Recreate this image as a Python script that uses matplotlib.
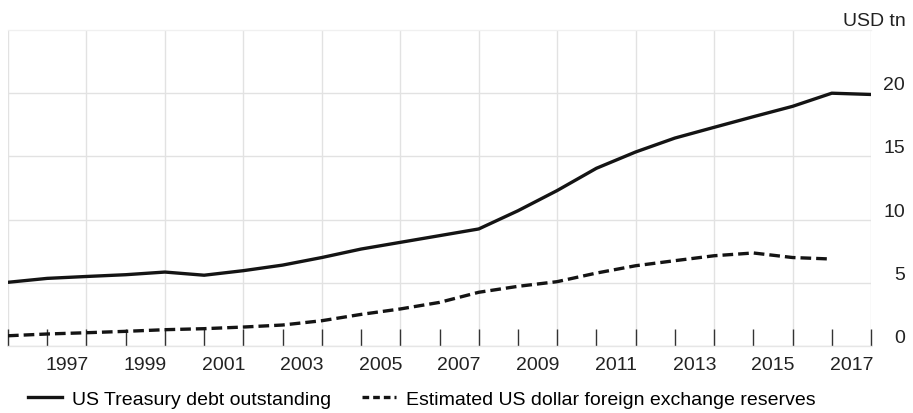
import numpy as np
import matplotlib
matplotlib.use("Agg")
from matplotlib import pyplot as plt
from matplotlib.lines import Line2D

plt.rcParams['font.family'] = ['Liberation Sans', 'DejaVu Sans']

# year-end observations (plotted at the boundary after each year)
years = [1995, 1996, 1997, 1998, 1999, 2000, 2001, 2002, 2003, 2004, 2005, 2006,
         2007, 2008, 2009, 2010, 2011, 2012, 2013, 2014, 2015, 2016, 2017]
treasury_debt = [5.04, 5.35, 5.5, 5.64, 5.85, 5.6, 5.96, 6.4, 7.0, 7.67, 8.2, 8.73,
                 9.26, 10.7, 12.3, 14.06, 15.35, 16.45, 17.3, 18.14, 18.96, 20.0, 19.9]
fx_years = years[:-1]
fx_reserves = [0.81, 0.95, 1.05, 1.16, 1.29, 1.37, 1.5, 1.66, 2.0, 2.5, 2.93, 3.45,
               4.25, 4.72, 5.09, 5.77, 6.35, 6.75, 7.14, 7.36, 7.0, 6.88]

label_years = [1997, 1999, 2001, 2003, 2005, 2007, 2009, 2011, 2013, 2015, 2017]
y_ticks = [0, 5, 10, 15, 20]

grid_col = "#e2e2e2"
line_col = "#141414"
fs = 14

fig = plt.figure(figsize=(9.13, 4.14), dpi=100)
ax = fig.add_axes([8 / 913, (414 - 347) / 414, (871 - 8) / 913, (347 - 31) / 414])

x_debt = np.array(years) + 1
x_fx = np.array(fx_years) + 1
ax.plot(x_debt, treasury_debt, color=line_col, lw=2.4, solid_joinstyle="round",
        zorder=3)
ax.plot(x_fx, fx_reserves, color=line_col, lw=2.4, dashes=(3.2, 1.5), zorder=3)

ax.set_xlim(1996, 2018)
ax.set_ylim(0, 25)

# vertical grid on even-year boundaries, horizontal grid every 5
for gx in range(1996, 2019, 2):
    ax.axvline(gx, color=grid_col, lw=1.0, zorder=1)
for gy in y_ticks:
    ax.axhline(gy, color=grid_col, lw=1.0, zorder=1)

# year boundary ticks pointing up from the bottom, labels centred in the year
ax.set_xticks(range(1996, 2019))
ax.set_xticklabels([])
ax.tick_params(axis="x", which="major", direction="in", length=12.5, width=1.0,
               color="#333333", bottom=True, top=False)
ax.set_xticks([y + 0.5 for y in label_years], minor=True)
ax.set_xticklabels([str(y) for y in label_years], minor=True, fontsize=fs,
                   color="#222222")
ax.tick_params(axis="x", which="minor", length=0, pad=7.5)

ax.yaxis.tick_right()
ax.set_yticks(y_ticks)
ax.set_yticklabels([str(v) for v in y_ticks], fontsize=fs, color="#222222")
ax.tick_params(axis="y", length=0, pad=24.5)
for lab in ax.get_yticklabels():
    lab.set_horizontalalignment("right")
    lab.set_verticalalignment("bottom")

for side in ["left", "right"]:
    ax.spines[side].set_visible(False)
ax.spines["top"].set_color("#f0f0f0")
ax.spines["bottom"].set_color("#e6e6e6")
ax.spines["top"].set_linewidth(1.0)
ax.spines["bottom"].set_linewidth(1.0)

fig.text(906 / 913, (414 - 26) / 414, "USD tn", ha="right", va="baseline",
         fontsize=fs, color="#222222")

handles = [Line2D([], [], color=line_col, lw=2.4),
           Line2D([], [], color=line_col, lw=2.4, dashes=(2.0, 1.2))]
fig.legend(handles, ["US Treasury debt outstanding",
                     "Estimated US dollar foreign exchange reserves"],
           loc="center left", bbox_to_anchor=(28 / 913, (414 - 400) / 414),
           ncol=2, frameon=False, fontsize=fs, handlelength=1.75,
           handletextpad=0.5, columnspacing=1.6, borderaxespad=0,
           borderpad=0)

fig.savefig("out.png", dpi=100)
